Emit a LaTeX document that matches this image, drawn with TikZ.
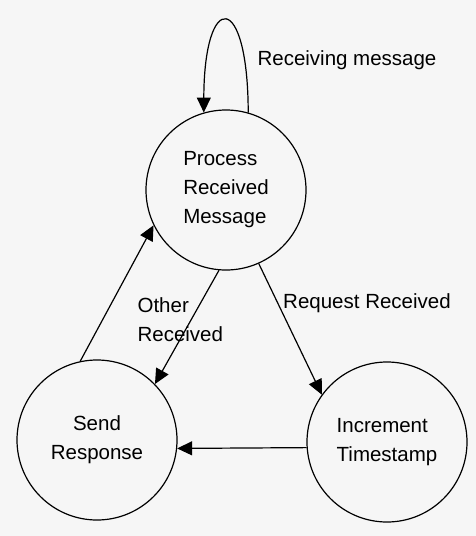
\documentclass[tikz,border=0pt]{standalone}
\usepackage{fontspec}
\setmainfont{Liberation Sans}
\usetikzlibrary{arrows.meta}

\definecolor{paper}{HTML}{F6F6F6}

\begin{document}
\begin{tikzpicture}
    [x=1pt, y=-1pt,
    line width=1.2pt,
    ->-/.style={-{Triangle[length=15pt, width=14pt]}},
    state/.style={circle, draw, minimum size=160pt, inner sep=0pt,
        font=\fontsize{20.5}{29}\selectfont},
    lbl/.style={inner sep=0pt, font=\fontsize{20.5}{29}\selectfont}]
        \useasboundingbox[fill=paper] (0,0) rectangle (476,536);
        % States
        \node[state, align=left] (A) at (226,190) {Process\\Received\\Message};
        \node[state, align=center] (B) at (97,440) {Send\\Response};
        \node[state, align=left] (C) at (387,442) {Increment\\Timestamp};

        % Transitions
        \draw[->-] (A.74) .. controls (248,-10) and (204,-10) .. (A.106);
        \draw[->-] (A.265) to (B.44);
        \draw[->-] (A.294) to (C.144);
        \draw[->-] (C.184) to (B.354);
        \draw[->-] (B.102) to (A.206);

        % Labels
        \node[lbl] (recv) at (347,60) {Receiving message};
        \node[lbl] (req) at (367,303) {Request Received};
        \node[lbl, align=left, anchor=west] (other) at (137,320) {Other\\Received};
    \end{tikzpicture}
\end{document}
